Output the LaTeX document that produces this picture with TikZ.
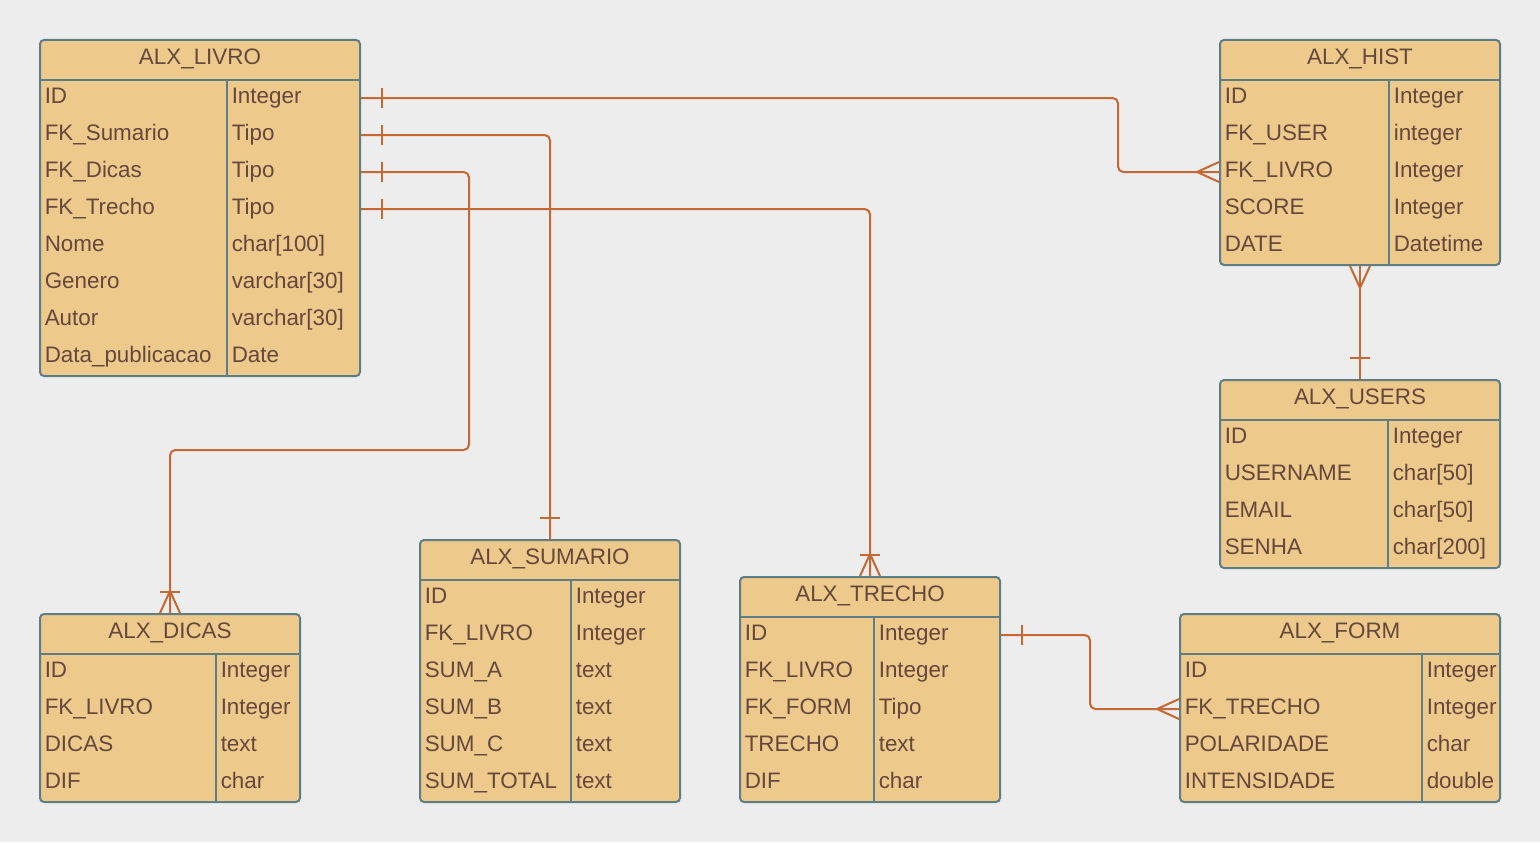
\documentclass[tikz,border=0pt]{standalone}
\usepackage{fontspec}
\setmainfont{Liberation Sans}
\usetikzlibrary{fit,calc}
\definecolor{bgc}{HTML}{EDEDED}
\definecolor{fillc}{HTML}{EDC98C}
\definecolor{bordc}{HTML}{5F7D85}
\definecolor{txtc}{HTML}{66473C}
\definecolor{connc}{HTML}{C46834}
\tikzset{
  tbl/.style={draw=bordc, fill=fillc, line width=1.5pt, rounded corners=3pt, inner sep=0pt},
  sepline/.style={draw=bordc, line width=1.5pt},
  txt/.style={text=txtc, inner sep=0pt, font=\fontsize{16.8}{20}\selectfont},
  conn/.style={draw=connc, line width=1.5pt, rounded corners=4pt},
  endmark/.style={draw=connc, line width=1.5pt},
}
% #1 name, #2 x1, #3 y1, #4 x2, #5 y2, #6 divider x, #7 title, #8 rows
\newcommand{\ertbl}[8]{%
  \node[tbl, fit={(#2,#3) (#4,#5)}] (#1) {};
  \draw[sepline] (#2,#3+40) -- (#4,#3+40);
  \draw[sepline] (#6,#3+40) -- (#6,#5);
  \node[txt, anchor=base] (#1-title) at ({(#2+#4)/2},#3+24.5) {#7};
  \foreach \f/\t [count=\i from 0] in {#8} {
    \coordinate (#1-r\i) at (#2,#3+58+37*\i);
    \node[txt, anchor=base west] (#1-f\i) at (#2+4.5,#3+63.5+37*\i) {\f};
    \node[txt, anchor=base west] (#1-t\i) at (#6+4.5,#3+63.5+37*\i) {\t};
  }
}
% crow's foot: #1 point on table edge, (#2,#3) unit vector outward
\newcommand{\crowft}[3]{%
  \draw[endmark] ($(#1)+(22*#2,22*#3)$) -- ($(#1)+(10*#3,10*#2)$);
  \draw[endmark] ($(#1)+(22*#2,22*#3)$) -- ($(#1)+(-10*#3,-10*#2)$);
}
% bar: #1 point on table edge, (#2,#3) unit vector outward
\newcommand{\onebar}[3]{%
  \draw[endmark] ($(#1)+(21*#2,21*#3)+(10*#3,10*#2)$) -- ($(#1)+(21*#2,21*#3)+(-10*#3,-10*#2)$);
}
\begin{document}
\begin{tikzpicture}[x=0.75pt,y=-0.75pt]
\useasboundingbox (0,0) rectangle (1540,842);
\fill[bgc] (0,0) rectangle (1540,842);

\ertbl{livro}{40}{40}{360}{376}{227}{ALX\_LIVRO}{ID/Integer, FK\_Sumario/Tipo, FK\_Dicas/Tipo, FK\_Trecho/Tipo, Nome/{char[100]}, Genero/{varchar[30]}, Autor/{varchar[30]}, Data\_publicacao/Date}
\ertbl{hist}{1220}{40}{1500}{265}{1389}{ALX\_HIST}{ID/Integer, FK\_USER/integer, FK\_LIVRO/Integer, SCORE/Integer, DATE/Datetime}
\ertbl{users}{1220}{380}{1500}{568}{1388}{ALX\_USERS}{ID/Integer, USERNAME/{char[50]}, EMAIL/{char[50]}, SENHA/{char[200]}}
\ertbl{dicas}{40}{614}{300}{802}{216}{ALX\_DICAS}{ID/Integer, FK\_LIVRO/Integer, DICAS/text, DIF/char}
\ertbl{sumario}{420}{540}{680}{802}{571}{ALX\_SUMARIO}{ID/Integer, FK\_LIVRO/Integer, SUM\_A/text, SUM\_B/text, SUM\_C/text, SUM\_TOTAL/text}
\ertbl{trecho}{740}{577}{1000}{802}{874}{ALX\_TRECHO}{ID/Integer, FK\_LIVRO/Integer, FK\_FORM/Tipo, TRECHO/text, DIF/char}
\ertbl{form}{1180}{614}{1500}{802}{1422}{ALX\_FORM}{ID/Integer, FK\_TRECHO/Integer, POLARIDADE/char, INTENSIDADE/double}

% connection end points
\coordinate (a1) at (livro.east |- livro-r0);
\coordinate (b1) at (hist.west |- hist-r2);
\coordinate (a2) at (livro.east |- livro-r1);
\coordinate (b2) at (sumario.north);
\coordinate (a3) at (livro.east |- livro-r2);
\coordinate (b3) at (dicas.north);
\coordinate (a4) at (livro.east |- livro-r3);
\coordinate (b4) at (trecho.north);
\coordinate (a5) at (hist.south);
\coordinate (b5) at (users.north);
\coordinate (a6) at (trecho.east |- trecho-r0);
\coordinate (b6) at (form.west |- form-r1);

\draw[conn] (a1) -- (1118,98) -- (1118,172) -- (b1);
\draw[conn] (a2) -| (b2);
\draw[conn] (a3) -- (469,172) -- (469,450) -- (170,450) -- (b3);
\draw[conn] (a4) -| (b4);
\draw[conn] (a5) -- (b5);
\draw[conn] (a6) -- (1090,635) -- (1090,709) -- (b6);

\onebar{a1}{1}{0}   \crowft{b1}{-1}{0}
\onebar{a2}{1}{0}   \onebar{b2}{0}{-1}
\onebar{a3}{1}{0}   \onebar{b3}{0}{-1} \crowft{b3}{0}{-1}
\onebar{a4}{1}{0}   \onebar{b4}{0}{-1} \crowft{b4}{0}{-1}
\crowft{a5}{0}{1}   \onebar{b5}{0}{-1}
\onebar{a6}{1}{0}   \crowft{b6}{-1}{0}
\end{tikzpicture}
\end{document}
